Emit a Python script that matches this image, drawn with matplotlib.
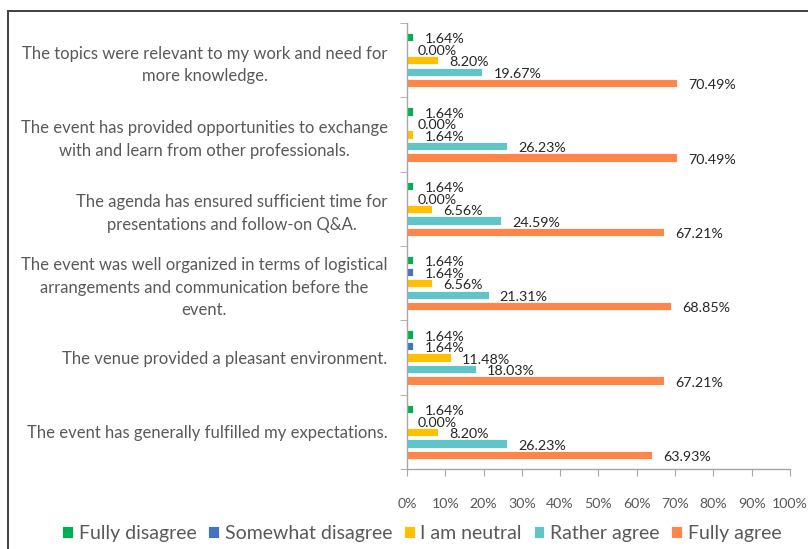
import matplotlib
matplotlib.use("Agg")
import matplotlib.pyplot as plt
from matplotlib.lines import Line2D
from matplotlib.ticker import FixedLocator, PercentFormatter
import numpy as np

plt.rcParams['font.family'] = ['Lato', 'DejaVu Sans']

categories = [
    "The event has generally fulfilled my expectations.",
    "The venue provided a pleasant environment.",
    "The event was well organized in terms of logistical\narrangements and communication before the\nevent.",
    "The agenda has ensured sufficient time for\npresentations and follow-on Q&A.",
    "The event has provided opportunities to exchange\nwith and learn from other professionals.",
    "The topics were relevant to my work and need for\nmore knowledge.",
]
series_names = ["Fully disagree", "Somewhat disagree", "I am neutral", "Rather agree", "Fully agree"]
fully_disagree = [1.64, 1.64, 1.64, 1.64, 1.64, 1.64]
somewhat_disagree = [0.00, 1.64, 1.64, 0.00, 0.00, 0.00]
neutral = [8.20, 11.48, 6.56, 6.56, 1.64, 8.20]
rather_agree = [26.23, 18.03, 21.31, 24.59, 26.23, 19.67]
fully_agree = [63.93, 67.21, 68.85, 67.21, 70.49, 70.49]
colors = ["#00B050", "#4472C4", "#FFC000", "#5FC5C8", "#FF8548"]

series = [fully_disagree, somewhat_disagree, neutral, rather_agree, fully_agree]

fig = plt.figure(figsize=(8.08, 5.49), dpi=100)
ax = fig.add_axes([0.5037, 0.1457, 0.474, 0.8123])

y = np.arange(len(categories))
step = 0.155
bh = 0.112
for i, (name, vals, c) in enumerate(zip(series_names, series, colors)):
    off = (2 - i) * step
    bars = ax.barh(y + off, vals, height=bh, color=c, edgecolor='#FFFFFF', linewidth=0.6, label=name)
    for b, v in zip(bars, vals):
        ax.annotate(f"{v:.2f}%", (b.get_width(), b.get_y() + b.get_height() / 2 - 0.03),
                    xytext=(8, 0), textcoords='offset points', va='center', ha='left',
                    fontsize=10.3, color='#262626')

ax.set_xlim(0, 100)
ax.set_ylim(-0.5, len(categories) - 0.5)
ax.set_xticks(np.arange(0, 101, 10))
ax.xaxis.set_major_formatter(PercentFormatter(decimals=0))
ax.tick_params(axis='x', direction='out', length=5, color='#A6A6A6', labelcolor='#595959',
               labelsize=10.2, pad=16)
ax.set_yticks(y)
ax.set_yticklabels(categories, multialignment='center', fontsize=12, color='#595959',
                   linespacing=1.5)
ax.tick_params(axis='y', length=0, pad=14)
ax.yaxis.set_minor_locator(FixedLocator(np.arange(-0.5, len(categories), 1.0)))
ax.tick_params(axis='y', which='minor', direction='out', length=5, color='#A6A6A6')
for s in ['top', 'right']:
    ax.spines[s].set_visible(False)
for s in ['left', 'bottom']:
    ax.spines[s].set_color('#A6A6A6')
    ax.spines[s].set_linewidth(1.0)

handles, labels = ax.get_legend_handles_labels()
leg = fig.legend(handles, labels, loc='center', bbox_to_anchor=(0.522, 0.029), ncol=5,
                 frameon=False, fontsize=14, handlelength=0.55, handleheight=0.55,
                 handletextpad=0.3, columnspacing=0.6, labelcolor='#595959')

fig.add_artist(Line2D([8 / 808, 1.0], [1 - 11 / 549, 1 - 11 / 549], transform=fig.transFigure,
                      color='#404040', linewidth=1.4))
fig.add_artist(Line2D([8 / 808, 8 / 808], [0, 1 - 11 / 549], transform=fig.transFigure,
                      color='#404040', linewidth=1.4))

fig.savefig("out.png", dpi=100)
